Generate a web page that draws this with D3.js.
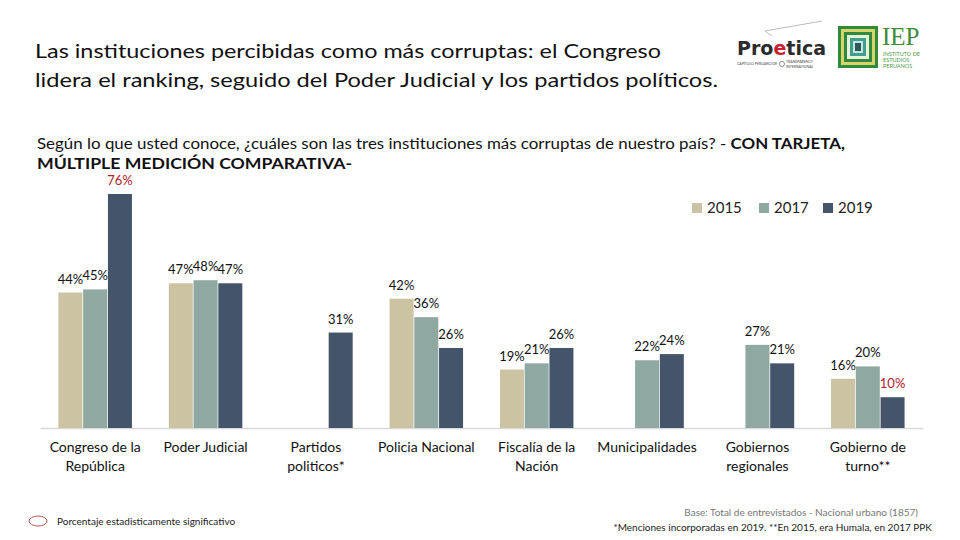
<!DOCTYPE html>
<html><head><meta charset="utf-8">
<script src="https://cdn.jsdelivr.net/npm/d3@7"></script>
<style>
html,body{margin:0;padding:0;background:#fff;}
svg{display:block;font-family:Lato,"Open Sans",sans-serif;}
</style></head>
<body>
<svg id="chart" width="960" height="540"></svg>
<script>
// ---- data ----
const categories = ["Congreso de la República","Poder Judicial","Partidos politicos*","Policia Nacional","Fiscalía de la Nación","Municipalidades","Gobiernos regionales","Gobierno de turno**"];
const categoryLines = [["Congreso de la","República"],["Poder Judicial"],["Partidos","politicos*"],["Policia Nacional"],["Fiscalía de la","Nación"],["Municipalidades"],["Gobiernos","regionales"],["Gobierno de","turno**"]];
const seriesNames = ["2015","2017","2019"];
const values2015 = [44, 47, null, 42, 19, null, null, 16];
const values2017 = [45, 48, null, 36, 21, 22, 27, 20];
const values2019 = [76, 47, 31, 26, 26, 24, 21, 10];
const significant2019 = [true, false, false, false, false, false, false, true];
const colors = ["#CBC3A1", "#8FA8A2", "#44546A"];

const svg = d3.select("#chart");

function fit(sel, target){ const n = sel.node(); const w = n.getComputedTextLength(); if (w>0) sel.attr("textLength", target).attr("lengthAdjust","spacingAndGlyphs"); }
function fitSize(sel, target, base){ const w = sel.node().getComputedTextLength(); if (w>0) sel.style("font-size", (base*target/w).toFixed(2)+"px"); }

// ---- title ----
const title = svg.append("g").attr("fill","#111").style("font-size","20px");
const t1 = title.append("text").attr("x",35).attr("y",58).text("Las instituciones percibidas como más corruptas: el Congreso");
const t2 = title.append("text").attr("x",35).attr("y",87).text("lidera el ranking, seguido del Poder Judicial y los partidos políticos.");
fit(t1, 626);
fit(t2, 683);

// subtitle
const sub = svg.append("g").attr("fill","#111").style("font-size","14.5px");
const s1 = sub.append("text").attr("x",37).attr("y",149);
s1.append("tspan").text("Según lo que usted conoce, ¿cuáles son las tres instituciones más corruptas de nuestro país? - ");
s1.append("tspan").attr("font-weight","bold").text("CON TARJETA,");
const s2 = sub.append("text").attr("x",37).attr("y",169).attr("font-weight","bold").text("MÚLTIPLE MEDICIÓN COMPARATIVA-");
fit(s1, 808);
fit(s2, 315);

// ---- scales ----
const baseY = 428;
const x0 = d3.scaleBand().domain(categories).range([40, 923]).paddingInner(0.334).paddingOuter(0.167);
const x1 = d3.scaleBand().domain(seriesNames).range([0, x0.bandwidth()]).paddingInner(0.03);
const y = d3.scaleLinear().domain([0, 76]).range([baseY, 194]);

const rows = categories.map((c,i)=>({cat:c, i, vals:[values2015[i], values2017[i], values2019[i]]}));

// axis
const xAxis = d3.axisBottom(x0).tickSize(0).tickFormat("");
const ax = svg.append("g").attr("transform",`translate(0,${baseY})`).call(xAxis);
ax.select(".domain").attr("stroke","#D9D9D9").attr("stroke-width",1.5);

// bars
const groups = svg.append("g").selectAll("g").data(rows).join("g")
  .attr("transform", d=>`translate(${x0(d.cat)},0)`);

const cells = groups.selectAll("g").data(d=>d.vals.map((v,k)=>({v,k,i:d.i})).filter(e=>e.v!=null)).join("g");
cells.append("rect")
  .attr("x", e=>x1(seriesNames[e.k]))
  .attr("width", x1.bandwidth())
  .attr("y", e=>y(e.v))
  .attr("height", e=>baseY - y(e.v))
  .attr("fill", e=>colors[e.k]);

cells.append("text")
  .attr("x", e=>x1(seriesNames[e.k]) + x1.bandwidth()/2)
  .attr("y", e=>y(e.v) - 9)
  .attr("text-anchor","middle")
  .style("font-size","13px")
  .attr("fill", e=> (e.k===2 && significant2019[e.i]) ? "#B0202A" : "#111")
  .text(e=>e.v + "%");

// category labels
const cl = svg.append("g").selectAll("text").data(rows).join("text")
  .attr("x", d=>x0(d.cat)+x0.bandwidth()/2)
  .attr("y", 452)
  .attr("text-anchor","middle")
  .attr("fill","#111")
  .style("font-size","14px");
cl.selectAll("tspan").data(d=>categoryLines[d.i]).join("tspan")
  .attr("x", function(){ return d3.select(this.parentNode).attr("x"); })
  .attr("dy", (t,j)=> j===0 ? 0 : 19)
  .text(t=>t);

// legend
const leg = svg.append("g").selectAll("g").data(seriesNames).join("g")
  .attr("transform",(d,i)=>`translate(${[692,759,823][i]},203)`);
leg.append("rect").attr("width",10).attr("height",10).attr("fill",(d,i)=>colors[i]);
leg.append("text").attr("x",15).attr("y",10).style("font-size","15px").attr("fill","#222").text(d=>d);

// footer
svg.append("ellipse").attr("cx",38).attr("cy",521).attr("rx",9).attr("ry",5)
  .attr("fill","none").attr("stroke","#C0504D").attr("stroke-width",1);
svg.append("text").attr("x",57).attr("y",525).style("font-size","10px").attr("fill","#222")
  .text("Porcentaje estadisticamente significativo");
svg.append("text").attr("x",918).attr("y",516).attr("text-anchor","end").style("font-size","10px").attr("fill","#777")
  .text("Base: Total de entrevistados - Nacional urbano (1857)");
svg.append("text").attr("x",932).attr("y",531).attr("text-anchor","end").style("font-size","10px").attr("fill","#222")
  .text("*Menciones incorporadas en 2019. **En 2015, era Humala, en 2017 PPK");

// ---- logos ----
const lg = svg.append("g");
lg.append("path").attr("d","M765,31 L822,21 M765,31 L772,36").attr("stroke","#BBB").attr("fill","none").attr("stroke-width",1);
const pt = lg.append("text").attr("x",737).attr("y",55).style("font-size","22px").attr("font-weight","900")
  .style("font-family","'DejaVu Sans',sans-serif").attr("fill","#2B2B2B");
pt.append("tspan").text("Pro");
pt.append("tspan").attr("fill","#C8202F").text("e");
pt.append("tspan").text("tica");
fitSize(pt, 89, 22);
lg.append("text").attr("x",737).attr("y",65).style("font-size","3.5px").attr("fill","#444").text("CAPÍTULO PERUANO DE");
lg.append("circle").attr("cx",782).attr("cy",64).attr("r",2.5).attr("fill","none").attr("stroke","#444").attr("stroke-width",0.6);
lg.append("text").attr("x",786).attr("y",63).style("font-size","3.5px").attr("fill","#444").text("TRANSPARENCY");
lg.append("text").attr("x",786).attr("y",67.5).style("font-size","3.5px").attr("fill","#444").text("INTERNATIONAL");

const frames = [["#2E8B3E",0],["#D9D36A",3],["#2E8B3E",6],["#E8F0D8",9],["#3F9E8E",12],["#C8E4E0",15],["#2C5A55",17]];
frames.forEach(([c,o])=>{
  lg.append("rect").attr("x",838+o).attr("y",26+o).attr("width",40-2*o).attr("height",42-2*o).attr("fill",c);
});
lg.append("text").attr("x",882).attr("y",45).style("font-size","25px").style("font-family","'Liberation Serif',serif")
  .attr("fill","#3C8D3A").text("IEP");
["INSTITUTO DE","ESTUDIOS","PERUANOS"].forEach((t,i)=>{
  lg.append("text").attr("x",883).attr("y",56+i*6).style("font-size","5.5px").attr("fill","#4E9A4A").text(t);
});
</script>
</body></html>
